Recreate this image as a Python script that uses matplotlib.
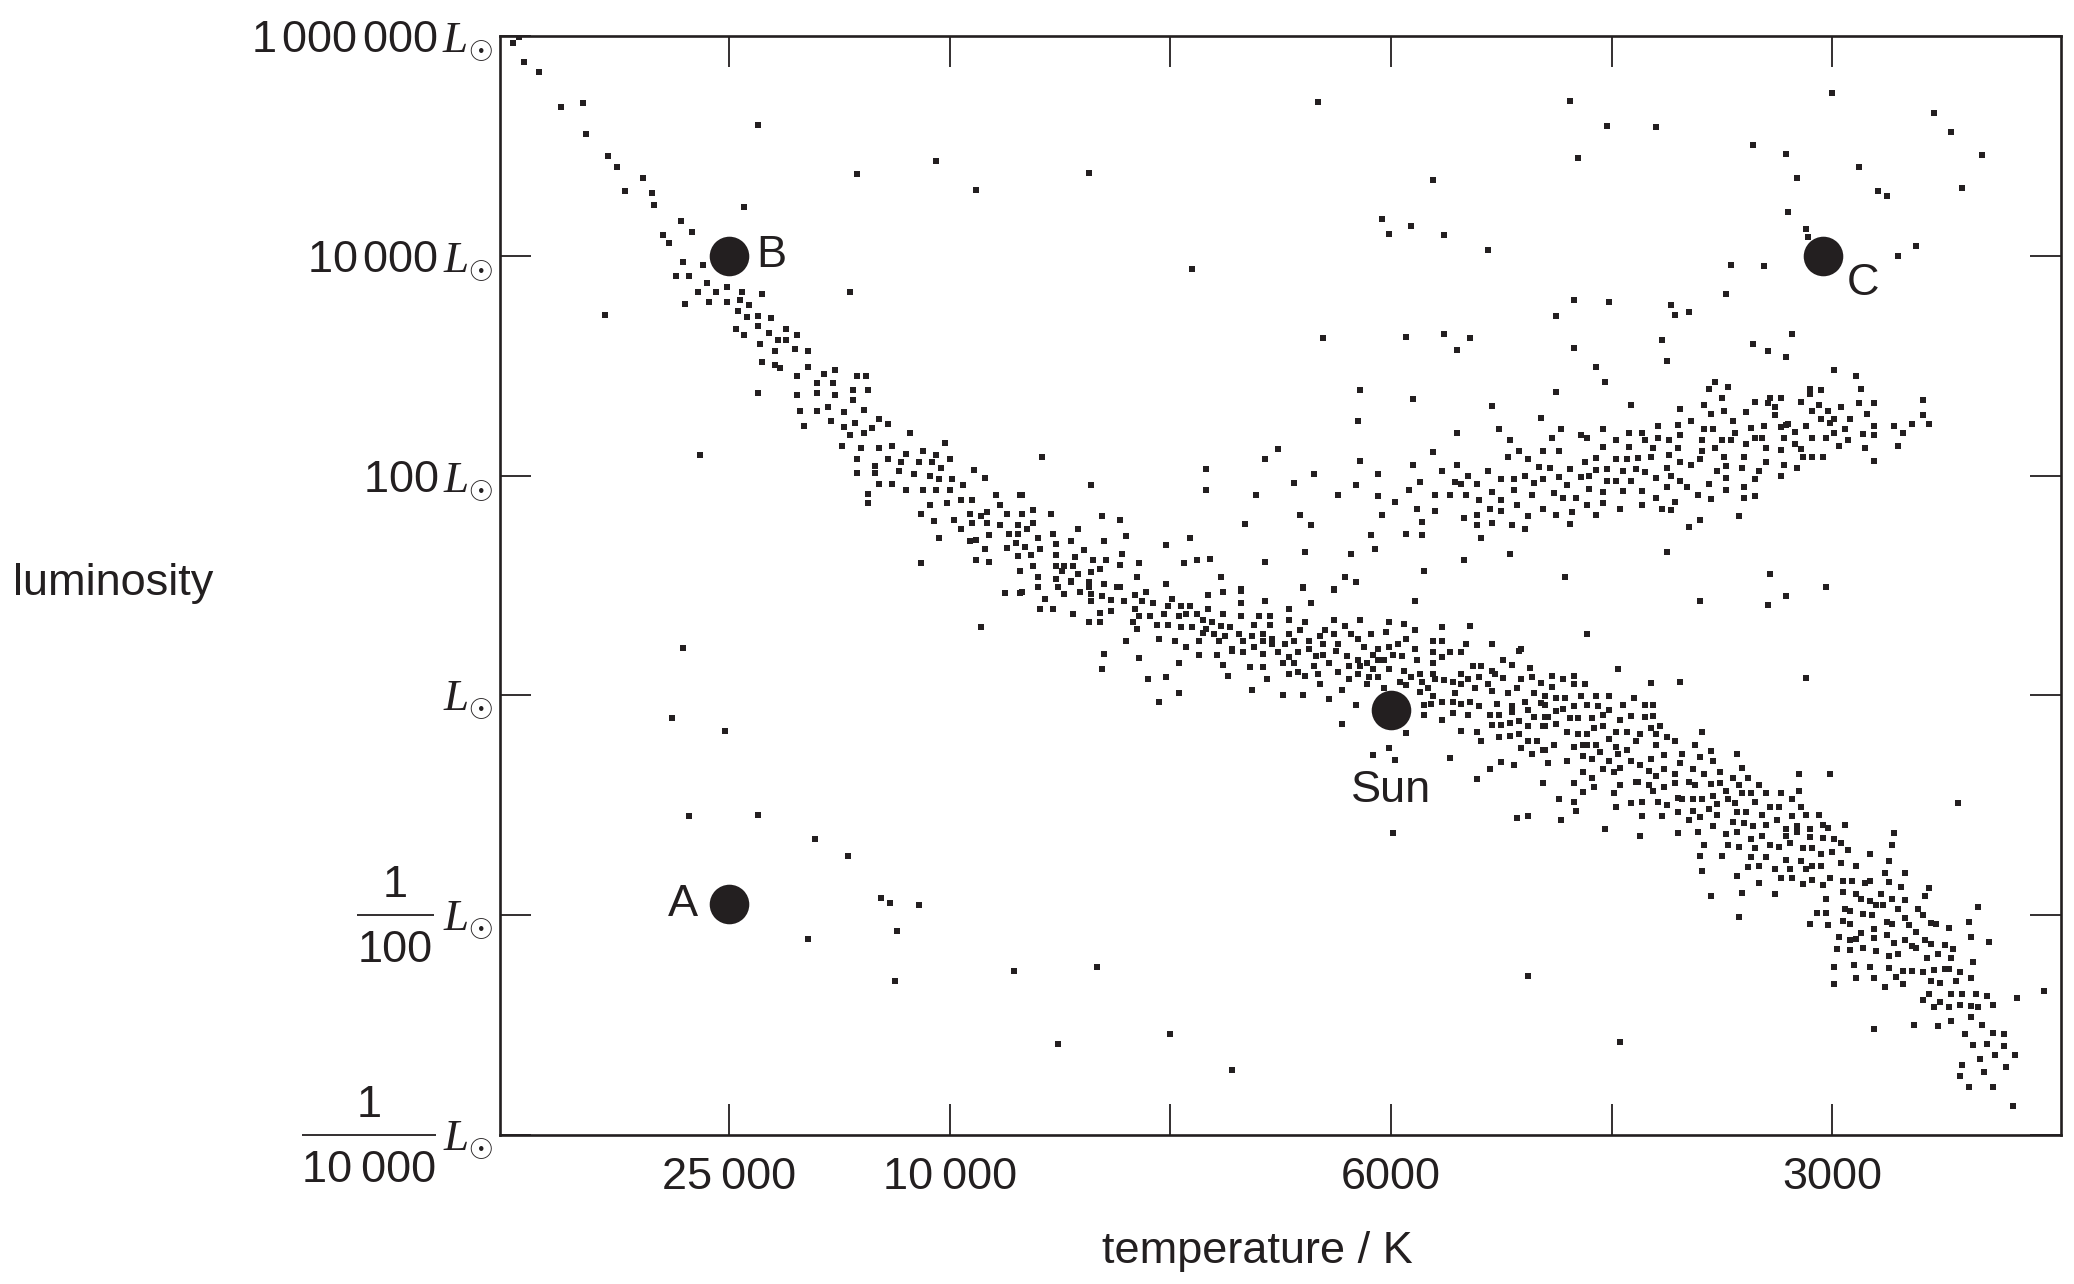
import numpy as np
import matplotlib
matplotlib.use("Agg")
import matplotlib.pyplot as plt

# x positions are in tick units of the temperature axis (0 = 25000 K ... 5 = 3000 K),
# y positions are log10(L / Lsun)
temp_ticks = [0, 1, 2, 3, 4, 5]
temp_labels = ["25\u2009000", "10\u2009000", "", "6000", "", "3000"]
lum_ticks = [-4, -2, 0, 2, 4, 6]
lum_labels = [r"$L_{\odot}$", r"$L_{\odot}$", r"$L_{\odot}$",
              r"$100\,L_{\odot}$", r"$10\,000\,L_{\odot}$", r"$1\,000\,000\,L_{\odot}$"]
# the two fractional labels: (tick value, denominator text)
frac_ticks = [-4, -2]
frac_denoms = ["10\u2009000", "100"]

# labelled stars: name, x, log L
named_stars = ["B", "C", "Sun", "A"]
named_x = [0.0, 4.96, 3.0, 0.0]
named_y = [4.0, 4.0, -0.13, -1.9]
label_x = [0.19, 5.14, 3.0, -0.21]
label_y = [4.0, 3.75, -0.87, -1.9]

# hot upper main sequence
upper_ms = [
    (-0.98, 5.94), (-0.95, 5.99), (-0.93, 5.76), (-0.86, 5.67), (-0.76, 5.35), (-0.66, 5.39),
    (-0.65, 5.11), (-0.55, 4.91), (-0.51, 4.81), (-0.39, 4.71), (-0.47, 4.59), (-0.35, 4.57),
    (-0.34, 4.46), (-0.22, 4.32), (-0.17, 4.22), (-0.30, 4.19), (-0.27, 4.12), (-0.21, 3.94),
    (-0.12, 3.92), (-0.24, 3.82), (-0.18, 3.82), (-0.10, 3.75), (-0.01, 3.72), (-0.14, 3.67),
    (-0.06, 3.67), (0.06, 3.67), (-0.20, 3.56), (-0.09, 3.58), (-0.01, 3.58), (0.05, 3.60),
    (0.09, 3.55), (0.15, 3.65), (0.04, 3.50), (0.08, 3.44), (0.13, 3.45), (0.19, 3.43),
    (0.13, 3.36), (0.03, 3.33), (0.07, 3.28), (0.18, 3.30), (0.26, 3.33), (0.31, 3.28),
    (0.22, 3.23), (0.26, 3.23), (0.14, 3.20), (0.21, 3.13), (0.30, 3.15), (0.36, 3.13),
    (0.15, 3.03), (0.23, 2.98), (0.21, 3.01), (0.36, 2.99), (0.31, 2.91), (0.43, 2.92),
    (0.48, 2.96), (0.58, 2.91), (0.62, 2.91), (0.40, 2.84), (0.47, 2.84), (0.13, 2.75),
    (0.31, 2.73), (0.40, 2.75), (0.48, 2.73), (0.56, 2.78), (0.63, 2.78), (0.56, 2.69),
    (0.32, 2.59), (0.40, 2.59), (0.45, 2.62), (0.52, 2.58), (0.61, 2.60), (0.46, 2.50),
    (0.34, 2.45), (0.52, 2.44), (0.57, 2.48), (0.55, 2.37), (0.61, 2.39), (0.65, 2.43),
    (0.68, 2.51), (0.72, 2.47), (0.82, 2.39), (0.51, 2.27), (0.60, 2.25), (0.68, 2.25),
    (0.74, 2.27), (0.80, 2.20), (0.88, 2.22), (0.94, 2.19), (0.98, 2.30), (0.58, 2.15),
    (0.66, 2.09), (0.72, 2.15), (0.78, 2.12), (0.86, 2.12), (0.92, 2.12), (1.00, 2.15),
    (0.58, 2.02), (0.66, 2.02), (0.77, 2.04), (0.84, 2.01), (0.91, 2.00), (0.95, 1.97),
    (1.01, 1.97), (0.96, 2.07), (1.11, 2.05), (1.16, 1.98), (0.68, 1.92), (0.74, 1.92),
    (0.80, 1.87), (0.88, 1.87), (0.94, 1.87), (1.00, 1.87), (1.06, 1.91), (0.63, 1.83),
    (0.63, 1.75), (0.91, 1.73), (0.99, 1.75), (1.05, 1.78), (1.10, 1.78), (1.21, 1.82),
    (1.32, 1.82), (0.87, 1.65), (0.93, 1.59), (1.02, 1.60), (1.09, 1.65), (1.14, 1.63),
    (1.17, 1.67), (1.23, 1.73), (1.26, 1.65), (1.33, 1.65), (1.05, 1.51), (1.10, 1.57),
    (1.17, 1.57), (1.23, 1.55), (1.31, 1.55), (0.95, 1.43), (1.09, 1.40), (1.12, 1.41),
    (1.18, 1.46), (1.27, 1.47), (1.31, 1.47), (1.35, 1.51), (1.16, 1.33), (1.26, 1.34),
    (1.30, 1.39), (1.34, 1.35), (1.12, 1.23), (1.18, 1.21), (1.31, 1.27), (1.32, 1.13),
    (0.87, 1.20),
]

# middle main sequence around the Sun
mid_ms = [
    (1.33, 1.82), (1.38, 1.69), (1.33, 1.65), (1.46, 1.65), (1.38, 1.57), (1.35, 1.51),
    (1.47, 1.47), (1.40, 1.43), (1.34, 1.35), (1.48, 1.38), (1.41, 1.33), (1.37, 1.28),
    (1.48, 1.28), (1.38, 1.18), (1.48, 1.18), (1.52, 1.18), (1.56, 1.18), (1.57, 1.26),
    (1.58, 1.51), (1.55, 1.40), (1.61, 1.32), (1.69, 1.63), (1.77, 1.60), (1.70, 1.40),
    (1.80, 1.45), (1.65, 1.23), (1.71, 1.23), (1.78, 1.29), (1.77, 1.19), (1.86, 1.20),
    (1.64, 1.91), (1.40, 1.08), (1.48, 1.06), (1.58, 1.10), (1.64, 1.12), (1.68, 1.15),
    (1.55, 1.04), (1.40, 0.99), (1.49, 0.99), (1.63, 0.99), (1.70, 1.01), (1.76, 0.99),
    (1.51, 1.13),
    (1.40, 0.99), (1.49, 0.99), (1.55, 1.03), (1.63, 1.03), (1.70, 1.01), (1.77, 0.99),
    (1.98, 1.01), (1.33, 0.94), (1.52, 0.92), (1.59, 0.94), (1.64, 0.92), (1.69, 0.90),
    (1.73, 0.87), (1.84, 0.91), (1.89, 0.94), (2.24, 0.94), (2.32, 0.95), (2.17, 0.91),
    (2.60, 0.99), (2.74, 0.96), (2.84, 1.03), (3.11, 0.86), (1.43, 0.88), (1.41, 0.79),
    (1.47, 0.79), (1.64, 0.86), (1.68, 0.75), (1.73, 0.77), (1.79, 0.86), (1.84, 0.79),
    (1.87, 0.86), (1.92, 0.84), (1.99, 0.81), (2.01, 0.88), (2.05, 0.81), (2.09, 0.81),
    (2.17, 0.79), (2.32, 0.84), (2.43, 0.86), (2.54, 0.79), (2.64, 0.84), (1.56, 0.74),
    (1.63, 0.67), (1.68, 0.67), (1.83, 0.67), (1.86, 0.72), (1.91, 0.72), (1.94, 0.64),
    (1.97, 0.74), (1.99, 0.64), (2.04, 0.72), (2.07, 0.74), (2.12, 0.74), (2.15, 0.69),
    (2.05, 0.62), (2.10, 0.62), (2.16, 0.60), (2.19, 0.67), (2.23, 0.63), (2.27, 0.62),
    (2.24, 0.74), (2.32, 0.72), (2.40, 0.72), (2.45, 0.72), (2.45, 0.64), (2.38, 0.64),
    (2.54, 0.69), (2.61, 0.67), (2.74, 0.69), (2.79, 0.63), (2.86, 0.69), (2.99, 0.67),
    (3.06, 0.65), (3.23, 0.62), (3.36, 0.63), (1.85, 0.60), (2.15, 0.57), (2.20, 0.56),
    (2.25, 0.54), (2.31, 0.56), (2.37, 0.54), (2.42, 0.56), (2.46, 0.51), (2.42, 0.49),
    (2.54, 0.56), (2.59, 0.59), (2.68, 0.54), (2.70, 0.59), (2.74, 0.56), (2.82, 0.56),
    (2.91, 0.56), (2.85, 0.51), (2.98, 0.58), (3.07, 0.51), (3.11, 0.59), (3.19, 0.49),
    (3.23, 0.49), (3.34, 0.47), (3.46, 0.47), (1.95, 0.51), (2.02, 0.49), (2.07, 0.44),
    (2.13, 0.49), (2.22, 0.49), (2.28, 0.42), (2.33, 0.39), (2.33, 0.49), (2.38, 0.44),
    (2.46, 0.47), (2.52, 0.47), (2.56, 0.49), (2.63, 0.49), (2.69, 0.47), (2.76, 0.47),
    (2.88, 0.44), (2.94, 0.42), (2.99, 0.44), (3.03, 0.47), (3.11, 0.42), (3.59, 0.42),
    (1.70, 0.38), (1.86, 0.34), (2.13, 0.37), (2.21, 0.37), (2.28, 0.40), (2.42, 0.38),
    (2.49, 0.39), (2.54, 0.35), (2.58, 0.39), (2.63, 0.42), (2.66, 0.36), (2.69, 0.37),
    (2.75, 0.40), (2.80, 0.36), (2.85, 0.32), (2.92, 0.37), (2.94, 0.32), (2.97, 0.32),
    (3.01, 0.37), (3.05, 0.36), (3.12, 0.32), (3.19, 0.39), (3.23, 0.35), (3.27, 0.39),
    (3.32, 0.39), (3.51, 0.32), (3.55, 0.28), (3.58, 0.40), (1.69, 0.24), (2.04, 0.29),
    (2.24, 0.28), (2.36, 0.26), (2.42, 0.26), (2.51, 0.29), (2.56, 0.29), (2.65, 0.27),
    (2.72, 0.29), (2.81, 0.27), (2.86, 0.27), (2.89, 0.29), (2.92, 0.24), (2.99, 0.24),
    (3.06, 0.22), (3.19, 0.29), (3.37, 0.27), (3.41, 0.27), (3.46, 0.22), (3.63, 0.25),
    (1.90, 0.15), (1.98, 0.17), (2.26, 0.18), (2.44, 0.15), (2.54, 0.19), (2.58, 0.21),
    (2.61, 0.18), (2.67, 0.19), (2.76, 0.21), (2.81, 0.15), (2.85, 0.19), (2.90, 0.17),
    (2.94, 0.17), (3.04, 0.12), (3.07, 0.09), (3.09, 0.17), (3.13, 0.19), (3.19, 0.19),
    (3.20, 0.15), (3.24, 0.14), (3.28, 0.12), (3.32, 0.19), (3.35, 0.15), (3.40, 0.17),
    (3.47, 0.19), (3.51, 0.16), (3.59, 0.15), (3.64, 0.17), (3.68, 0.11), (2.37, 0.05),
    (2.51, 0.00), (2.60, 0.00), (2.68, 0.10), (2.78, 0.05), (2.89, 0.10), (2.97, 0.07),
    (3.14, 0.12), (3.17, 0.07), (3.32, 0.10), (3.38, 0.07), (3.44, 0.10), (3.46, 0.04),
    (3.57, 0.07), (1.95, -0.06), (2.04, 0.02), (2.72, -0.03), (2.84, -0.09), (3.13, 0.03),
    (3.19, -0.01), (3.23, -0.06), (3.29, 0.02), (3.28, -0.06), (3.32, -0.08), (3.36, -0.06),
    (3.40, -0.10), (3.48, -0.08), (3.53, 0.02), (3.55, -0.10), (3.61, -0.06), (3.65, 0.02),
    (3.68, -0.07), (3.70, -0.01), (3.15, -0.09), (3.18, -0.08), (2.78, -0.26), (3.15, -0.18),
    (3.23, -0.22), (3.28, -0.16), (3.35, -0.18), (3.45, -0.18), (3.49, -0.18), (3.55, -0.15),
    (3.58, -0.23), (3.62, -0.13), (3.65, -0.20), (3.70, -0.20), (3.46, -0.27), (3.50, -0.27),
    (3.54, -0.25), (3.62, -0.28), (3.70, -0.28), (3.32, -0.32), (3.39, -0.33), (3.07, -0.34),
    (3.49, -0.38), (3.54, -0.37), (3.58, -0.35), (3.62, -0.42), (3.66, -0.42), (3.41, -0.42),
    (3.59, -0.48), (3.64, -0.53), (3.70, -0.50), (2.99, -0.48), (2.92, -0.54), (3.02, -0.59),
    (3.27, -0.57), (3.45, -0.67), (3.50, -0.61), (3.56, -0.63), (3.71, -0.62), (3.39, -0.76),
    (3.69, -0.80), (3.57, -1.12), (3.62, -1.10), (3.01, -1.25), (1.80, 0.49),
]

# cool lower main sequence
lower_ms = [
    (3.73, 0.18), (3.78, 0.15), (3.83, 0.18), (3.68, 0.11), (3.73, 0.08), (3.83, 0.10),
    (3.88, 0.10), (3.70, -0.01), (3.75, -0.02), (3.79, -0.02), (3.86, -0.01), (3.93, -0.01),
    (3.99, -0.01), (4.10, -0.02), (3.70, -0.09), (3.75, -0.14), (3.78, -0.12), (3.83, -0.10),
    (3.89, -0.09), (3.94, -0.10), (3.99, -0.13), (4.05, -0.09), (4.15, -0.09), (4.19, -0.09),
    (3.71, -0.20), (3.81, -0.21), (3.85, -0.21), (3.91, -0.21), (3.96, -0.18), (4.04, -0.22),
    (4.09, -0.19), (4.15, -0.20), (4.19, -0.19), (3.69, -0.28), (3.75, -0.26), (3.80, -0.33),
    (3.85, -0.35), (3.89, -0.35), (3.92, -0.30), (3.96, -0.28), (4.02, -0.33), (4.07, -0.33),
    (4.13, -0.35), (4.18, -0.30), (4.22, -0.28), (4.20, -0.35), (4.25, -0.38), (4.41, -0.33),
    (3.74, -0.45), (3.69, -0.50), (3.83, -0.47), (3.87, -0.45), (3.89, -0.45), (3.93, -0.45),
    (3.99, -0.40), (4.02, -0.47), (4.07, -0.50), (4.11, -0.42), (4.20, -0.45), (4.29, -0.42),
    (4.38, -0.45), (3.95, -0.52), (4.03, -0.53), (4.18, -0.58), (4.24, -0.54), (4.32, -0.53),
    (4.40, -0.56), (4.45, -0.51), (4.57, -0.53), (3.71, -0.62), (3.80, -0.60), (3.87, -0.55),
    (3.91, -0.58), (3.99, -0.60), (4.09, -0.60), (4.13, -0.63), (4.17, -0.69), (4.31, -0.62),
    (4.46, -0.60), (3.87, -0.70), (3.91, -0.75), (3.96, -0.67), (4.01, -0.70), (4.04, -0.66),
    (4.11, -0.79), (4.17, -0.82), (4.20, -0.73), (4.24, -0.67), (4.29, -0.72), (4.37, -0.67),
    (4.42, -0.72), (4.49, -0.70), (4.59, -0.66), (4.85, -0.72), (4.99, -0.72), (3.69, -0.80),
    (3.83, -0.80), (3.87, -0.88), (3.92, -0.83), (4.01, -0.89), (4.04, -0.82), (4.12, -0.79),
    (4.19, -0.87), (4.24, -0.83), (4.29, -0.80), (4.35, -0.79), (4.38, -0.82), (4.45, -0.81),
    (4.49, -0.80), (4.52, -0.87), (4.55, -0.75), (4.58, -0.82), (4.62, -0.75), (4.67, -0.82),
    (4.85, -0.87), (3.76, -0.94), (3.83, -0.97), (3.84, -1.05), (4.02, -1.02), (4.09, -0.98),
    (4.14, -0.97), (4.21, -0.97), (4.25, -1.00), (4.30, -0.93), (4.32, -0.94), (4.37, -0.94),
    (4.41, -0.94), (4.46, -0.92), (4.48, -0.99), (4.53, -0.94), (4.56, -0.98), (4.59, -0.89),
    (4.63, -0.89), (4.65, -0.97), (4.70, -0.89), (4.77, -0.89), (4.82, -0.94), (4.86, -1.02),
    (3.77, -1.13), (3.97, -1.22), (4.14, -1.10), (4.23, -1.10), (4.30, -1.06), (4.35, -1.13),
    (4.37, -1.05), (4.40, -1.11), (4.44, -1.03), (4.48, -1.09), (4.55, -1.15), (4.57, -1.06),
    (4.61, -1.06), (4.68, -1.09), (4.72, -1.02), (4.76, -1.02), (4.82, -1.10), (4.88, -1.09),
    (4.94, -1.09), (4.46, -1.19), (4.52, -1.26), (4.64, -1.19), (4.60, -1.16), (4.70, -1.18),
    (4.75, -1.13), (4.79, -1.22), (4.84, -1.19), (4.90, -1.22), (4.96, -1.18), (4.98, -1.21),
    (5.06, -1.18), (4.13, -1.28), (4.30, -1.25), (4.39, -1.24), (4.57, -1.24), (4.63, -1.31),
    (4.68, -1.28), (4.79, -1.28), (4.84, -1.24), (4.90, -1.29), (4.96, -1.30), (5.01, -1.31),
    (5.04, -1.34), (5.28, -1.25), (4.42, -1.36), (4.53, -1.36), (4.58, -1.38), (4.65, -1.39),
    (4.72, -1.36), (4.76, -1.38), (4.81, -1.34), (4.87, -1.39), (4.91, -1.39), (4.95, -1.44),
    (5.00, -1.43), (5.07, -1.41), (5.17, -1.44), (5.27, -1.36), (4.40, -1.46), (4.50, -1.46),
    (4.63, -1.47), (4.70, -1.47), (4.79, -1.50), (4.86, -1.51), (4.91, -1.55), (4.95, -1.55),
    (5.04, -1.53), (5.11, -1.55), (5.26, -1.51), (4.41, -1.60), (4.57, -1.64), (4.62, -1.56),
    (4.67, -1.55), (4.74, -1.58), (4.81, -1.58), (4.88, -1.58), (4.67, -1.71), (4.77, -1.66),
    (4.82, -1.66), (4.87, -1.72), (4.91, -1.68), (4.96, -1.73), (4.99, -1.66), (5.05, -1.69),
    (5.09, -1.69), (5.15, -1.71), (5.17, -1.69), (5.24, -1.62), (5.26, -1.70), (5.31, -1.74),
    (5.33, -1.62), (5.44, -1.75), (4.45, -1.83), (4.59, -1.80), (4.74, -1.81), (4.97, -1.85),
    (5.05, -1.79), (5.11, -1.81), (5.13, -1.85), (5.17, -1.87), (5.22, -1.81), (5.27, -1.85),
    (5.33, -1.86), (5.42, -1.83), (4.58, -2.02), (4.93, -1.98), (4.97, -1.98), (5.06, -1.94),
    (5.08, -1.96), (5.14, -1.99), (5.18, -2.00), (5.20, -1.91), (5.23, -1.91), (5.30, -1.94),
    (5.39, -1.94), (5.41, -2.00), (5.66, -1.93), (4.90, -2.08), (4.98, -2.09), (5.05, -2.05),
    (5.08, -2.08), (5.13, -2.16), (5.19, -2.13), (5.25, -2.06), (5.27, -2.08), (5.33, -2.03),
    (5.35, -2.09), (5.38, -2.15), (5.45, -2.07), (5.47, -2.08), (5.53, -2.12), (5.62, -2.06),
    (5.03, -2.20), (5.08, -2.23), (5.11, -2.22), (5.19, -2.21), (5.25, -2.18), (5.28, -2.25),
    (5.33, -2.23), (5.42, -2.23), (5.63, -2.20), (5.71, -2.24), (5.02, -2.31), (5.08, -2.32),
    (5.14, -2.30), (5.20, -2.33), (5.26, -2.37), (5.30, -2.35), (5.36, -2.28), (5.38, -2.30),
    (5.43, -2.39), (5.45, -2.26), (5.51, -2.27), (5.55, -2.31), (5.48, -2.35), (5.54, -2.39),
    (5.01, -2.47), (5.10, -2.45), (5.17, -2.47), (5.26, -2.48), (5.32, -2.51), (5.36, -2.51),
    (5.41, -2.52), (5.46, -2.50), (5.51, -2.49), (5.53, -2.49), (5.58, -2.52), (5.64, -2.43),
    (5.01, -2.63), (5.11, -2.57), (5.19, -2.57), (5.24, -2.65), (5.29, -2.56), (5.32, -2.63),
    (5.45, -2.60), (5.49, -2.62), (5.56, -2.60), (5.63, -2.57), (5.41, -2.77), (5.44, -2.72),
    (5.49, -2.79), (5.54, -2.72), (5.59, -2.72), (5.65, -2.72), (5.70, -2.74), (5.46, -2.84),
    (5.53, -2.84), (5.58, -2.82), (5.63, -2.83), (5.66, -2.84), (5.73, -2.82), (5.84, -2.75),
    (5.96, -2.69), (5.37, -3.00), (5.48, -3.01), (5.54, -2.96), (5.63, -2.93), (5.19, -3.04),
    (5.68, -3.00), (5.60, -3.08), (5.73, -3.07), (5.78, -3.08), (5.64, -3.18), (5.70, -3.17),
    (5.78, -3.19), (5.74, -3.27), (5.83, -3.27), (5.67, -3.31), (5.79, -3.38), (5.59, -3.36),
    (5.69, -3.43), (5.58, -3.46), (5.62, -3.56), (5.73, -3.56), (5.82, -3.74),
]

# giant branch
giants = [
    (4.47, 2.85), (4.53, 2.81), (4.44, 2.79), (4.90, 2.79), (4.95, 2.78), (5.13, 2.79),
    (4.50, 2.71), (4.72, 2.71), (4.77, 2.71), (4.65, 2.67), (4.86, 2.67), (4.90, 2.74),
    (5.12, 2.66), (5.19, 2.66), (5.41, 2.69), (4.42, 2.64), (4.71, 2.66), (4.31, 2.61),
    (4.51, 2.59), (4.45, 2.56), (4.61, 2.58), (4.74, 2.62), (4.91, 2.59), (4.94, 2.64),
    (5.04, 2.62), (4.98, 2.59), (5.16, 2.56), (4.74, 2.55), (5.41, 2.55), (4.36, 2.50),
    (4.55, 2.50), (4.95, 2.51), (4.99, 2.48), (5.01, 2.51), (5.08, 2.51), (5.36, 2.47),
    (5.44, 2.47), (5.28, 2.45), (4.21, 2.45), (4.30, 2.46), (4.79, 2.46), (4.80, 2.47),
    (4.88, 2.45), (5.19, 2.45), (3.77, 2.42), (3.96, 2.42), (4.08, 2.39), (4.14, 2.39),
    (4.42, 2.42), (4.46, 2.42), (4.56, 2.39), (4.63, 2.43), (4.69, 2.45), (4.77, 2.44),
    (4.83, 2.40), (5.01, 2.39), (5.06, 2.42), (5.14, 2.38), (5.19, 2.37), (5.32, 2.39),
    (3.73, 2.34), (3.86, 2.37), (3.89, 2.34), (4.02, 2.32), (4.15, 2.32), (4.21, 2.34),
    (4.26, 2.32), (4.31, 2.37), (4.41, 2.32), (4.50, 2.32), (4.54, 2.32), (4.61, 2.29),
    (4.65, 2.34), (4.68, 2.34), (4.78, 2.34), (4.83, 2.29), (4.91, 2.34), (4.97, 2.34),
    (5.07, 2.32), (3.69, 2.22), (3.76, 2.22), (3.96, 2.26), (4.08, 2.26), (4.19, 2.25),
    (4.30, 2.25), (4.41, 2.22), (4.47, 2.25), (4.70, 2.25), (4.77, 2.23), (4.86, 2.24),
    (5.03, 2.27), (5.15, 2.25), (5.30, 2.27), (3.88, 2.12), (3.93, 2.16), (4.02, 2.15),
    (4.07, 2.15), (4.12, 2.16), (4.18, 2.17), (4.26, 2.19), (4.31, 2.12), (4.36, 2.10),
    (4.40, 2.15), (4.51, 2.17), (4.60, 2.17), (4.70, 2.12), (4.78, 2.10), (4.87, 2.17),
    (4.91, 2.17), (4.96, 2.17), (4.84, 2.07), (5.19, 2.13), (3.72, 2.07), (3.81, 2.06),
    (3.93, 2.05), (3.98, 2.06), (4.05, 2.04), (4.11, 2.06), (4.15, 2.03), (4.25, 2.07),
    (4.48, 2.04), (4.52, 2.09), (4.59, 2.07), (4.67, 2.04), (3.69, 1.97), (3.76, 1.99),
    (3.86, 1.99), (3.90, 2.00), (3.98, 1.95), (4.02, 1.95), (4.09, 1.95), (4.20, 1.98),
    (4.27, 2.00), (4.31, 1.95), (4.52, 1.98), (4.65, 1.97), (4.77, 2.00), (3.80, 1.91),
    (3.74, 1.84), (3.90, 1.88), (3.96, 1.85), (4.05, 1.86), (4.14, 1.86), (4.25, 1.90),
    (4.34, 1.90), (4.44, 1.92), (4.52, 1.87), (4.60, 1.90), (3.69, 1.70), (3.78, 1.80),
    (3.84, 1.80), (3.89, 1.73), (3.96, 1.75), (4.04, 1.70), (4.14, 1.73), (4.20, 1.80),
    (4.23, 1.70), (4.27, 1.69), (4.29, 1.76), (4.39, 1.82), (4.45, 1.79), (4.60, 1.80),
    (4.65, 1.81), (3.75, 1.64), (3.82, 1.67), (3.93, 1.64), (3.81, 1.56), (4.35, 1.53),
    (4.40, 1.60), (4.58, 1.63),
    (2.86, 2.78), (2.85, 2.50), (3.10, 2.70), (3.46, 2.63), (3.68, 2.52), (3.30, 2.39),
    (3.49, 2.42), (3.54, 2.32), (2.49, 2.24), (2.43, 2.15), (2.16, 2.06), (2.86, 2.13),
    (3.19, 2.21), (3.10, 2.10), (3.30, 2.10), (3.58, 2.22), (3.62, 2.15), (3.53, 2.17),
    (3.67, 2.08), (2.94, 2.01), (3.23, 2.04), (3.44, 2.04), (3.35, 2.00), (3.50, 1.97),
    (3.56, 1.97), (3.61, 2.00), (3.69, 1.97), (2.65, 2.01), (2.56, 1.93), (2.84, 1.91),
    (3.13, 1.94), (3.29, 1.94), (3.32, 1.92), (3.39, 1.92), (3.65, 1.93), (2.16, 1.87),
    (2.39, 1.82), (2.76, 1.82), (2.94, 1.81), (3.08, 1.87), (3.20, 1.82), (3.27, 1.82),
    (3.34, 1.82), (3.46, 1.85), (3.56, 1.87), (3.64, 1.82), (3.02, 1.76), (3.40, 1.78),
    (3.50, 1.78), (3.57, 1.73), (3.12, 1.70), (3.20, 1.68), (3.45, 1.70), (3.50, 1.68),
    (3.69, 1.70), (2.59, 1.64), (2.96, 1.64), (3.33, 1.61), (3.39, 1.64), (3.62, 1.63),
    (2.34, 1.56), (2.64, 1.55), (3.14, 1.58), (3.39, 1.55), (3.46, 1.57), (3.55, 1.55),
    (3.61, 1.51), (2.91, 1.46), (3.07, 1.47), (3.14, 1.46), (3.41, 1.43), (2.09, 1.43),
    (1.98, 1.37), (2.93, 1.33), (2.61, 1.30), (2.82, 1.29), (3.54, 1.29), (3.33, 1.23),
    (2.06, 1.20), (2.12, 1.23), (2.18, 1.24), (2.43, 1.21), (3.15, 1.13), (2.23, 1.08),
    (2.79, 1.08), (2.84, 1.03), (1.98, 1.01), (1.85, 1.08), (2.60, 0.98), (2.74, 0.97),
    (2.32, 0.97),
]

# supergiants and stray stars
scattered = [
    (0.13, 5.19), (0.58, 4.74), (0.94, 4.86), (1.12, 4.60), (0.07, 4.44), (0.55, 3.67),
    (-0.56, 3.46), (-0.13, 2.19),
    (2.67, 5.40), (1.63, 4.75), (3.19, 4.69), (2.96, 4.33), (2.99, 4.20), (3.09, 4.27),
    (3.24, 4.19), (3.44, 4.05), (2.10, 3.88), (2.69, 3.25), (3.07, 3.26), (3.24, 3.29),
    (3.36, 3.25), (3.30, 3.14), (3.10, 2.70), (1.42, 2.17), (3.30, 2.39),
    (3.81, 5.41), (3.98, 5.18), (4.20, 5.17), (3.85, 4.89), (5.00, 5.48), (5.46, 5.30),
    (5.54, 5.13), (5.68, 4.92), (4.64, 5.01), (4.79, 4.93), (5.12, 4.81), (4.84, 4.71),
    (5.21, 4.59), (5.25, 4.54), (5.59, 4.62), (4.80, 4.40), (4.88, 4.24), (4.89, 4.17),
    (5.30, 4.00), (5.38, 4.09), (4.54, 3.92), (4.69, 3.91), (4.52, 3.65), (3.83, 3.60),
    (3.99, 3.58), (3.75, 3.45), (4.27, 3.55), (4.29, 3.46), (4.35, 3.49), (4.23, 3.23),
    (3.83, 3.16), (4.64, 3.20), (4.71, 3.13), (4.79, 3.08), (4.82, 3.29), (4.25, 3.04),
    (3.93, 2.99), (3.97, 2.85), (3.75, 2.76), (5.01, 2.96), (5.11, 2.91), (4.09, 2.64),
    (4.25, 1.30), (3.79, 1.08), (4.72, 1.10), (4.97, 0.99),
    (4.40, 0.86), (4.71, 0.82), (4.79, 0.90), (4.97, 0.99), (3.89, 0.56), (4.03, 0.24),
    (4.88, 0.16), (4.31, 0.12), (4.18, 0.11),
]

# faint stars below the main sequence
faint = [
    (1.25, 0.93), (1.32, 0.93), (1.14, 0.62), (-0.21, 0.43), (-0.26, -0.21), (-0.02, -0.32),
    (-0.18, -1.10), (0.13, -1.09), (0.39, -1.31), (0.54, -1.46), (0.69, -1.84), (0.73, -1.89),
    (0.86, -1.91), (0.36, -2.22), (0.76, -2.14), (0.75, -2.60), (1.29, -2.51),
    (1.67, -2.47), (1.49, -3.17), (2.00, -3.08), (2.28, -3.41), (3.62, -2.55),
    (4.04, -3.15), (5.57, -0.98),
]

ink = "#231f20"
plt.rcParams["font.family"] = ["Liberation Sans", "DejaVu Sans"]
plt.rcParams["mathtext.fontset"] = "custom"
plt.rcParams["mathtext.rm"] = "Liberation Sans"
plt.rcParams["mathtext.it"] = "Liberation Serif:italic"
plt.rcParams["mathtext.bf"] = "Liberation Sans:bold"

fig = plt.figure(figsize=(20.74, 12.84), dpi=100)
ax = fig.add_axes([0.2411, 0.1161, 0.7527, 0.8559])

for group in [upper_ms, mid_ms, lower_ms, giants, scattered, faint]:
    pts = np.array(group)
    ax.plot(pts[:, 0], pts[:, 1], linestyle="none", marker="s", markersize=3.9,
            markeredgewidth=0, color=ink, zorder=2)

ax.plot(named_x, named_y, linestyle="none", marker="o", markersize=28.5,
        markeredgewidth=0, color=ink, zorder=3)
for name, lx, ly in zip(named_stars, label_x, label_y):
    ax.text(lx, ly, name, ha="center", va="center", fontsize=32.5, color=ink)

ax.set_xlim(-1.038, 6.038)
ax.set_ylim(-4, 6)
ax.set_xticks(temp_ticks)
ax.set_xticklabels(temp_labels)
ax.set_yticks(lum_ticks)
ax.set_yticklabels(lum_labels)
ax.tick_params(direction="in", length=22, width=1.3, color=ink, top=True, right=True,
               labelsize=32.5, labelcolor=ink)
ax.tick_params(axis="x", pad=16)
ax.tick_params(axis="y", pad=5)
for sp in ax.spines.values():
    sp.set_linewidth(1.9)
    sp.set_color(ink)

# fractional luminosity labels: "1" over a bar over the denominator, left of L_sun
ytrans = ax.get_yaxis_transform()
frac_center = [-0.0839, -0.0673]
frac_bar = [(-0.1268, -0.0410), (-0.0916, -0.0423)]
for tv, den, cx, (b0, b1) in zip(frac_ticks, frac_denoms, frac_center, frac_bar):
    ax.text(cx, tv + 0.165, "1", transform=ytrans, ha="center", va="baseline",
            fontsize=32.5, color=ink, clip_on=False)
    ax.text(cx, tv - 0.425, den, transform=ytrans, ha="center", va="baseline",
            fontsize=32.5, color=ink, clip_on=False)
    ax.plot([b0, b1], [tv, tv], transform=ytrans, color=ink, linewidth=1.3,
            clip_on=False, solid_capstyle="butt")

ax.text(0.485, -0.1165, "temperature / K", transform=ax.transAxes, ha="center",
        va="baseline", fontsize=32.5, color=ink)
fig.text(13 / 2074, 1 - 595 / 1284, "luminosity", ha="left", va="baseline",
         fontsize=32.5, color=ink)

fig.savefig("out.png", dpi=100)
